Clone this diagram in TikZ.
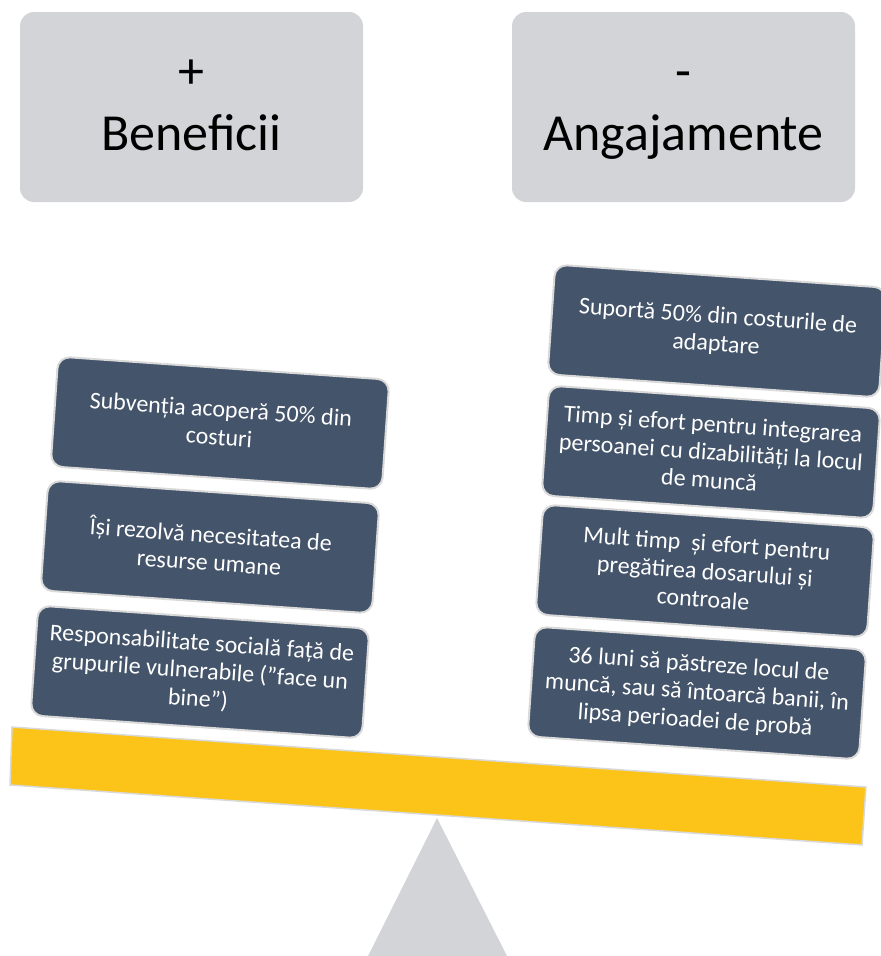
\documentclass[tikz,border=0pt]{standalone}
\usepackage{fontspec}
\setmainfont{Carlito}
\definecolor{slate}{HTML}{44546A}
\definecolor{panel}{HTML}{D3D4D8}
\definecolor{beamyellow}{HTML}{FCC419}
\definecolor{rim}{HTML}{D9D9D9}
\begin{document}
\begin{tikzpicture}[x=1pt,y=-1pt,
  head/.style={fill=panel,rounded corners=14pt,minimum width=343pt,minimum height=190pt,
    align=center,font=\fontsize{52}{62}\selectfont},
  card/.style={fill=slate,draw=rim,line width=2pt,rounded corners=12pt,text=white,
    minimum width=332pt,minimum height=110pt,align=center,rotate=-4,
    font=\fontsize{24}{28}\selectfont}]
\useasboundingbox (0,0) rectangle (881,956);
% headings
\node[head] (plus) at (191.5,107) {\strut+\\Beneficii\strut};
\node[head] (minus) at (683.5,107) {\strut-\\Angajamente\strut};
% the scale
\fill[panel] (437,818) -- (507,956) -- (368,956) -- cycle;
\filldraw[fill=beamyellow,draw=rim,line width=1.5pt]
  (12,727) -- (866,787) -- (862,845) -- (10,785) -- cycle;
% left pan
\node[card] (gain1) at (220,423) {Subvenția acoperă 50\% din\\costuri};
\node[card] (gain2) at (210,547) {Își rezolvă necesitatea de\\resurse umane};
\node[card] (gain3) at (200,672) {Responsabilitate socială față de\\grupurile vulnerabile (”face un\\bine”)};
% right pan
\node[card] (cost1) at (717,331) {Suportă 50\% din costurile de\\adaptare};
\node[card] (cost2) at (711,452) {Timp și efort pentru integrarea\\persoanei cu dizabilități la locul\\de muncă};
\node[card] (cost3) at (705,571) {Mult timp\ \ și efort pentru\\pregătirea dosarului și\\controale};
\node[card] (cost4) at (697,693) {36 luni să păstreze locul de\\muncă, sau să întoarcă banii, în\\lipsa perioadei de probă};
\end{tikzpicture}
\end{document}
